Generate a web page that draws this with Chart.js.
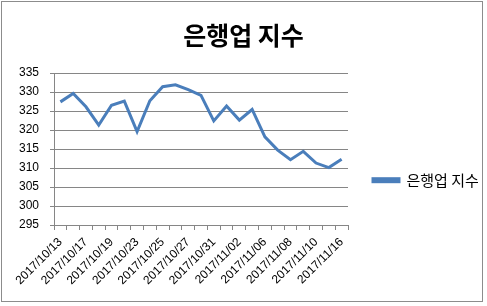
<!DOCTYPE html>
<html>
<head>
<meta charset="utf-8">
<script src="https://cdn.jsdelivr.net/npm/chart.js@4"></script>
<style>
  html, body { margin: 0; padding: 0; background: #fff; }
  #wrap { width: 487px; height: 306px; }
</style>
</head>
<body>
<div id="wrap"><canvas id="bankChart" width="487" height="306"></canvas></div>
<script>
// trading days shown on the x axis
const dates = [
  "2017/10/13", "2017/10/16", "2017/10/17", "2017/10/18", "2017/10/19", "2017/10/20",
  "2017/10/23", "2017/10/24", "2017/10/25", "2017/10/26", "2017/10/27", "2017/10/30",
  "2017/10/31", "2017/11/01", "2017/11/02", "2017/11/03", "2017/11/06", "2017/11/07",
  "2017/11/08", "2017/11/09", "2017/11/10", "2017/11/14", "2017/11/16"
];
// bank index values
const bankIndex = [
  327.4, 329.6, 326.1, 321.3, 326.5, 327.6, 319.6, 327.7, 331.4, 331.9, 330.6, 329.1,
  322.4, 326.3, 322.6, 325.4, 318.2, 314.7, 312.2, 314.4, 311.3, 310.1, 312.3
];
const yTicks = { min: 295, max: 335, step: 5 };

const fontLatin = "'Liberation Sans', 'Noto Sans CJK KR', sans-serif";
const fontKr = "'Noto Sans CJK KR', sans-serif";

// grey frame round the whole chart, like the spreadsheet export
const framePlugin = {
  id: "frame",
  afterDraw(chart) {
    const c = chart.ctx;
    c.save();
    c.strokeStyle = "#8c8c8c";
    c.lineWidth = 1;
    c.strokeRect(1.5, 1.5, 481, 300);
    c.restore();
  }
};

// legend box gets a fixed width so there is room right of the text
const legendWidthPlugin = {
  id: "legendWidth",
  beforeLayout(chart) {
    const lg = chart.legend;
    if (lg && !lg.fixedFit) {
      const fit = lg.fit;
      lg.fit = function () { fit.call(this); this.width = 139; };
      lg.fixedFit = true;
    }
  }
};

const ctx = document.getElementById("bankChart").getContext("2d");
new Chart(ctx, {
  type: "line",
  data: {
    labels: dates,
    datasets: [{
      label: "은행업 지수",
      data: bankIndex,
      borderColor: "#4a7ebb",
      backgroundColor: "#4a7ebb",
      borderWidth: 3,
      pointRadius: 0,
      tension: 0,
      fill: false
    }]
  },
  options: {
    responsive: false,
    animation: false,
    layout: { padding: 0 },
    plugins: {
      title: {
        display: true,
        text: "은행업 지수",
        color: "#000",
        font: { family: fontKr, size: 25, weight: "bold", lineHeight: 1.2 },
        padding: { top: 20, bottom: 23 }
      },
      legend: {
        position: "right",
        align: "center",
        maxWidth: 300,
        // empty title only pushes the entry down to sit level with the plot's middle
        title: { display: true, text: "", font: { size: 12, lineHeight: 1.2 }, padding: { top: 40, bottom: 0 } },
        labels: {
          boxWidth: 26,
          boxHeight: 3,
          padding: 25,
          color: "#000",
          font: { family: fontKr, size: 15 }
        }
      },
      tooltip: { enabled: false }
    },
    scales: {
      x: {
        offset: true,
        grid: {
          offset: true,
          drawOnChartArea: false,
          drawTicks: true,
          tickLength: 5,
          color: "#868686"
        },
        border: { color: "#868686" },
        ticks: {
          autoSkip: false,
          minRotation: 45,
          maxRotation: 45,
          padding: 5,
          color: "#000",
          font: { family: fontLatin, size: 12 },
          callback: function (val, i) { return i % 2 === 0 ? this.getLabelForValue(val) : ""; }
        },
        afterFit(scale) { scale.height = 81; }
      },
      y: {
        min: yTicks.min,
        max: yTicks.max,
        grid: { color: "#868686", tickLength: 4 },
        border: { color: "#868686" },
        ticks: {
          stepSize: yTicks.step,
          padding: 11,
          color: "#000",
          font: { family: fontLatin, size: 12 }
        },
        afterFit(scale) { scale.width = 54; }
      }
    }
  },
  plugins: [framePlugin, legendWidthPlugin]
});
</script>
</body>
</html>
